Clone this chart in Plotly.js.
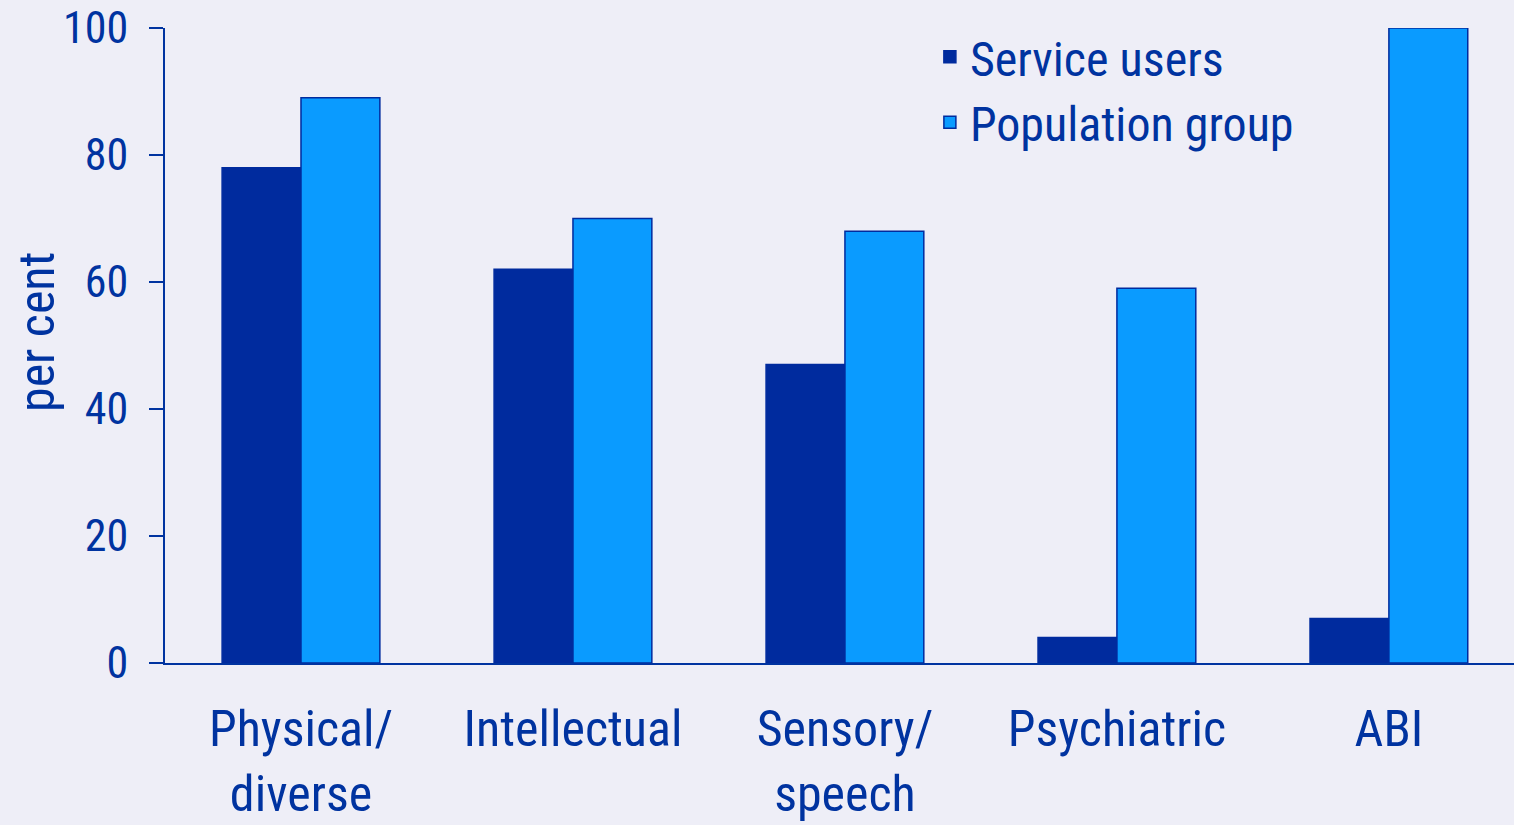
<!DOCTYPE html>
<html>
<head>
<meta charset="utf-8">
<script src="https://cdn.plot.ly/plotly-3.0.1.min.js"></script>
<style>
  html, body { margin: 0; padding: 0; background: #EEEEF7; }
  #chart { width: 1514px; height: 825px; }
</style>
</head>
<body>
<div id="chart"></div>
<script>
const categories = ["Physical/<br>diverse", "Intellectual", "Sensory/<br>speech", "Psychiatric", "ABI"];
const serviceUsers = [78, 62, 47, 4, 7];
const populationGroup = [89, 70, 68, 59, 100];
const yTicks = [0, 20, 40, 60, 80, 100];

const textColor = "#0033A0";
const darkBlue = "#002B9E";
const lightBlue = "#0A9BFF";
const fontFamily = "'Roboto Condensed', Roboto, 'Liberation Sans', sans-serif";

const traces = [
  {
    type: "bar",
    name: "Service users",
    x: categories,
    y: serviceUsers,
    marker: { color: darkBlue, line: { color: darkBlue, width: 1.5 } },
    hoverinfo: "skip"
  },
  {
    type: "bar",
    name: "Population group",
    x: categories,
    y: populationGroup,
    marker: { color: lightBlue, line: { color: darkBlue, width: 1.5 } },
    hoverinfo: "skip"
  }
];

const layout = {
  width: 1514,
  height: 825,
  paper_bgcolor: "#EEEEF7",
  plot_bgcolor: "#EEEEF7",
  margin: { l: 165, r: 0, t: 28, b: 162 },
  barmode: "group",
  bargap: 0.42,
  bargroupgap: 0,
  font: { family: fontFamily, color: textColor },
  showlegend: true,
  legend: {
    x: 0.567, y: 1.014, xanchor: "left", yanchor: "top",
    bgcolor: "rgba(0,0,0,0)", borderwidth: 0,
    font: { family: fontFamily, size: 48, color: textColor },
    tracegroupgap: 0
  },
  xaxis: {
    type: "category",
    range: [-0.5, 4.46],
    showline: true, linecolor: textColor, linewidth: 2,
    ticks: "", showgrid: false, zeroline: false,
    tickfont: { family: fontFamily, size: 50, color: textColor },
    ticklabelstandoff: 21,
    fixedrange: true
  },
  yaxis: {
    range: [0, 100],
    tickvals: yTicks,
    ticktext: yTicks.map(String),
    showline: true, linecolor: textColor, linewidth: 2,
    ticks: "outside", ticklen: 14, tickwidth: 2, tickcolor: textColor,
    showgrid: false, zeroline: false,
    tickfont: { family: fontFamily, size: 44, color: textColor },
    ticklabelstandoff: 12,
    fixedrange: true
  },
  annotations: [
    {
      text: "per cent",
      xref: "paper", yref: "paper",
      x: (37 - 165) / 1349, y: (663 - 332) / 635,
      xanchor: "center", yanchor: "middle",
      textangle: -90, showarrow: false,
      font: { family: fontFamily, size: 50, color: textColor }
    }
  ]
};

Plotly.newPlot("chart", traces, layout, { displayModeBar: false, staticPlot: true });
</script>
</body>
</html>
